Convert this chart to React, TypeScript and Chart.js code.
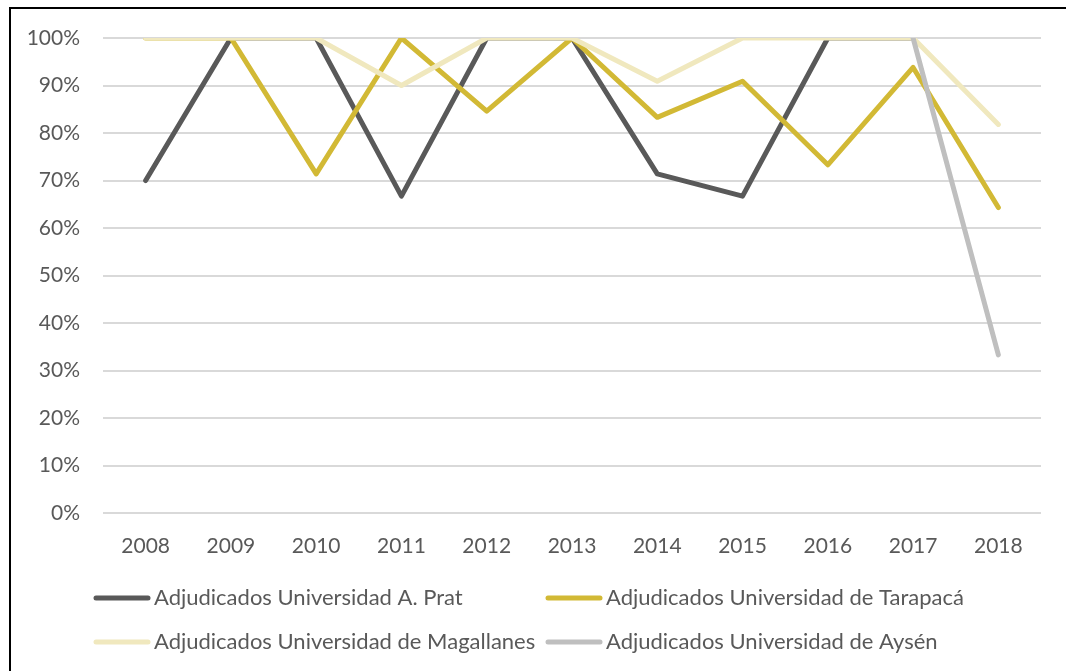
import React, { useEffect, useRef } from "react";
import { Chart, registerables } from "chart.js";

Chart.register(...registerables);

const years = ["2008", "2009", "2010", "2011", "2012", "2013", "2014", "2015", "2016", "2017", "2018"];
const seriesNames = [
  "Adjudicados Universidad A. Prat",
  "Adjudicados Universidad de Tarapacá",
  "Adjudicados Universidad de Magallanes",
  "Adjudicados Universidad de Aysén",
];
const prat = [70, 100, 100, 66.7, 100, 100, 71.4, 66.7, 100, 100, null];
const tarapaca = [100, 100, 71.4, 100, 84.6, 100, 83.3, 90.9, 73.3, 93.8, 64.3];
const magallanes = [100, 100, 100, 90, 100, 100, 90.9, 100, 100, 100, 81.8];
const aysen = [null, null, null, null, null, null, null, null, null, 100, 33.3];
const yTicks = [0, 10, 20, 30, 40, 50, 60, 70, 80, 90, 100];

const colors = ["#595959", "#d2b935", "#f0e8be", "#bfbfbf"];
const FONT = "Lato, 'Open Sans', sans-serif";

const gridLegend = {
  id: "gridLegend",
  afterDraw(chart: any) {
    const ctx = chart.ctx;
    const cols = [96, 548];
    const rows = [598, 642];
    ctx.save();
    ctx.font = `22px ${FONT}`;
    ctx.textBaseline = "middle";
    ctx.textAlign = "left";
    chart.data.datasets.forEach((ds: any, i: number) => {
      const x = cols[i % 2];
      const y = rows[Math.floor(i / 2)];
      ctx.strokeStyle = ds.borderColor;
      ctx.lineWidth = 5;
      ctx.lineCap = "round";
      ctx.beginPath();
      ctx.moveTo(x, y);
      ctx.lineTo(x + 52, y);
      ctx.stroke();
      ctx.fillStyle = "#595959";
      ctx.fillText(ds.label, x + 58, y);
    });
    ctx.restore();
  },
};

export default function App() {
  const ref = useRef<HTMLCanvasElement>(null);
  useEffect(() => {
    const data = [prat, tarapaca, magallanes, aysen];
    const chart = new Chart(ref.current!, {
      type: "line",
      data: {
        labels: years,
        datasets: data.map((d, i) => ({
          label: seriesNames[i],
          data: d,
          borderColor: colors[i],
          backgroundColor: colors[i],
          borderWidth: 5,
          pointRadius: 0,
          borderCapStyle: "round",
          borderJoinStyle: "round",
          tension: 0,
          order: 4 - i,
        })),
      },
      options: {
        responsive: false,
        animation: false,
        layout: { padding: { top: 38, right: 25, bottom: 98, left: 0 } },
        plugins: { legend: { display: false }, tooltip: { enabled: false } },
        scales: {
          x: {
            offset: true,
            grid: { display: false },
            border: { display: false },
            ticks: { color: "#595959", font: { family: FONT, size: 21 }, padding: 13, maxRotation: 0 },
            afterFit: (s: any) => {
              s.height = 60;
            },
          },
          y: {
            min: 0,
            max: 100,
            afterBuildTicks: (s: any) => {
              s.ticks = yTicks.map((v) => ({ value: v }));
            },
            grid: { color: "#d9d9d9", lineWidth: 2, drawTicks: false },
            border: { display: false },
            ticks: {
              color: "#595959",
              font: { family: FONT, size: 21 },
              padding: 23,
              callback: (v: any) => `${v}%`,
            },
            afterFit: (s: any) => {
              s.width = 103;
            },
          },
        },
      },
      plugins: [gridLegend],
    } as any);
    return () => chart.destroy();
  }, []);
  return (
    <div style={{ position: "fixed", left: 0, top: 0, width: 1066, height: 671, overflow: "hidden", background: "#fff" }}>
      <canvas ref={ref} width={1066} height={671} style={{ position: "absolute", left: 0, top: 0 }} />
      <div
        style={{
          position: "absolute",
          left: 9,
          top: 7,
          width: 1200,
          height: 800,
          border: "2px solid #000",
          boxSizing: "border-box",
          pointerEvents: "none",
        }}
      />
    </div>
  );
}
